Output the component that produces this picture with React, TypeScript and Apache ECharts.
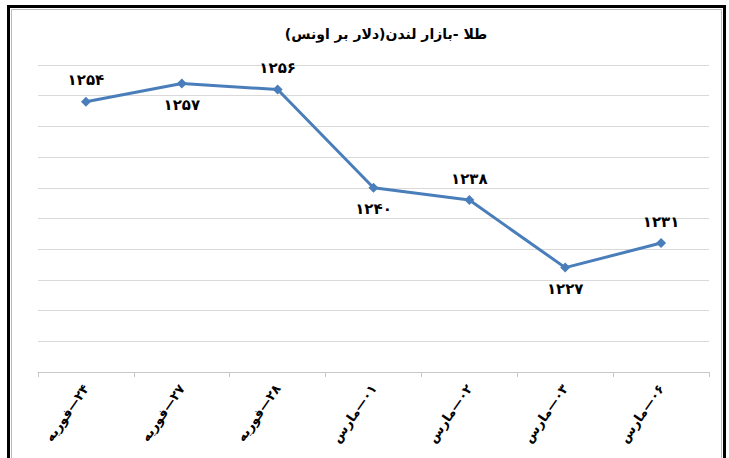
import React, { useEffect, useRef } from "react";
import * as echarts from "echarts";

const titleText = "طلا -بازار لندن(دلار بر اونس)";
const categories = ["۲۴—فوریه", "۲۷—فوریه", "۲۸—فوریه", "۰۱—مارس", "۰۲—مارس", "۰۳—مارس", "۰۶—مارس"];
const prices = [1254, 1257, 1256, 1240, 1238, 1227, 1231];
const yMin = 1210;
const yMax = 1260;
const yStep = 5;

const faDigits = "۰۱۲۳۴۵۶۷۸۹";
const toFa = (n: number) => String(n).replace(/[0-9]/g, (d) => faDigits[Number(d)]);
const rtl = (s: string) => "\u202B" + s + "\u202C";

export default function App() {
  const ref = useRef<HTMLDivElement>(null);
  useEffect(() => {
    if (!ref.current) return;
    const chart = echarts.init(ref.current, null, { renderer: "svg" });
    const font = "'DejaVu Sans', 'Noto Sans', sans-serif";
    chart.setOption({
      animation: false,
      backgroundColor: "#ffffff",
      title: {
        text: rtl(titleText),
        left: 381,
        top: 22,
        textAlign: "center",
        textStyle: { fontFamily: font, fontSize: 14, fontWeight: "bold", color: "#000" },
      },
      graphic: [
        {
          type: "rect",
          shape: { x: 8.5, y: 6.5, width: 716, height: 480 },
          style: { fill: "none", stroke: "#000", lineWidth: 3 },
          silent: true,
        },
        {
          type: "rect",
          shape: { x: 11.5, y: 9.5, width: 710, height: 480 },
          style: { fill: "none", stroke: "#bbbbbb", lineWidth: 1 },
          silent: true,
        },
      ],
      grid: { left: 38, right: 20, top: 65, bottom: 86 },
      xAxis: {
        type: "category",
        data: categories,
        boundaryGap: true,
        axisLine: { lineStyle: { color: "#c8c8c8", width: 1 } },
        axisTick: { show: true, length: 5, lineStyle: { color: "#c8c8c8" } },
        axisLabel: {
          rotate: 55,
          margin: 14,
          fontFamily: font,
          fontSize: 13,
          fontWeight: "bold",
          color: "#000",
          formatter: (v: string) => rtl(v),
        },
      },
      yAxis: {
        type: "value",
        min: yMin,
        max: yMax,
        interval: yStep,
        axisLabel: { show: false },
        axisLine: { show: false },
        axisTick: { show: false },
        splitLine: { lineStyle: { color: "#d9d9d9", width: 1 } },
      },
      series: [
        {
          type: "line",
          data: prices.map((v, i) => ({
            value: v,
            label: { position: i % 2 === 0 ? "top" : "bottom" },
          })),
          symbol: "diamond",
          symbolSize: 10,
          itemStyle: { color: "#4a7ebb" },
          lineStyle: { color: "#4a7ebb", width: 3 },
          label: {
            show: true,
            distance: 9,
            fontFamily: font,
            fontSize: 15,
            fontWeight: "bold",
            color: "#000",
            formatter: (p: any) => toFa(p.value),
          },
        },
      ],
    });
    return () => chart.dispose();
  }, []);
  return (
    <div
      ref={ref}
      style={{ position: "fixed", left: 0, top: 0, width: 729, height: 458 }}
    />
  );
}
